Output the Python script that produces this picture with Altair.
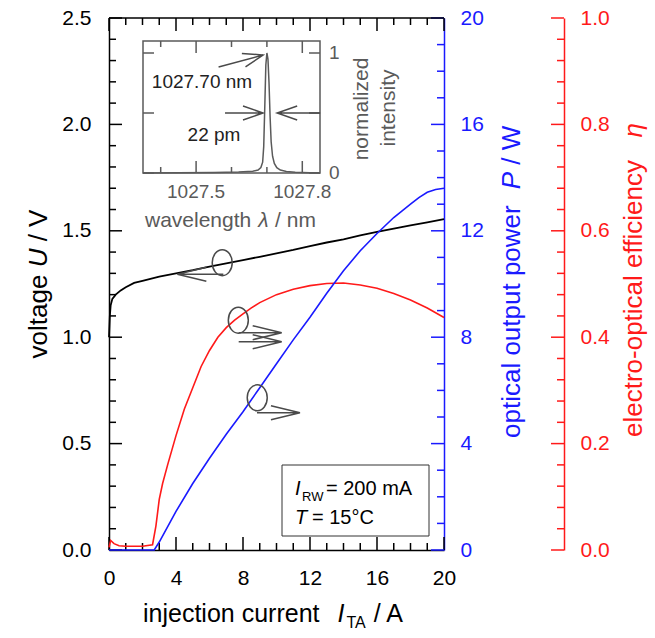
import altair as alt
import pandas as pd

# ---------------- values ----------------
current_U = [0, 0.05, 0.1, 0.2, 0.4, 0.7, 1.0, 1.5, 2, 3, 4, 5, 6, 7, 8, 9, 10,
             11, 12, 13, 14, 15, 16, 17, 18, 19, 20]
voltage_U = [1.00, 1.10, 1.15, 1.18, 1.20, 1.22, 1.235, 1.255, 1.265, 1.285, 1.30,
             1.315, 1.332, 1.347, 1.362, 1.378, 1.394, 1.41, 1.428, 1.445, 1.46,
             1.478, 1.495, 1.51, 1.525, 1.54, 1.555]

current_P = [0, 2.7, 3, 4, 5, 6, 7, 8, 9, 10, 11, 12, 13, 14, 15, 16, 17, 17.5,
             18, 18.5, 19, 19.5, 20]
power_P = [0, 0, 0.3, 1.45, 2.5, 3.45, 4.35, 5.2, 6.1, 7.0, 7.9, 8.75, 9.65, 10.5,
           11.25, 11.9, 12.5, 12.75, 13.0, 13.25, 13.45, 13.55, 13.6]

current_eta = [0, 0.1, 0.3, 0.6, 1.0, 2.0, 2.6, 2.8, 3.0, 3.2, 3.5, 4.0, 4.5, 5.0,
               5.5, 6.0, 6.5, 7.0, 7.5, 8.0, 8.5, 9.0, 10, 11, 12, 13, 14, 15, 16,
               17, 18, 19, 20]
efficiency_eta = [0.005, 0.018, 0.012, 0.008, 0.007, 0.007, 0.01, 0.045, 0.095,
                  0.125, 0.16, 0.215, 0.265, 0.305, 0.345, 0.375, 0.40, 0.418,
                  0.432, 0.444, 0.455, 0.465, 0.48, 0.49, 0.497, 0.501, 0.502,
                  0.498, 0.492, 0.482, 0.47, 0.455, 0.437]

wavelength_nm = [1027.35, 1027.45, 1027.55, 1027.62, 1027.66, 1027.675, 1027.683,
                 1027.688, 1027.691, 1027.694, 1027.697, 1027.700, 1027.703,
                 1027.706, 1027.709, 1027.712, 1027.716, 1027.721, 1027.728,
                 1027.738, 1027.755, 1027.78, 1027.82, 1027.85]
norm_intensity = [0.0, 0.002, 0.004, 0.008, 0.015, 0.025, 0.045, 0.09, 0.22, 0.55,
                  0.9, 1.0, 0.95, 0.75, 0.47, 0.26, 0.14, 0.08, 0.045, 0.025, 0.012,
                  0.006, 0.003, 0.002]

x_major = [0, 4, 8, 12, 16, 20]
x_minor = [v for v in range(21) if v % 4]
u_major = [0, 0.5, 1.0, 1.5, 2.0, 2.5]
u_minor = [round(i * 0.1, 2) for i in range(26) if i % 5]
p_major = [0, 4, 8, 12, 16, 20]
p_minor = [v for v in range(21) if v % 4]
e_major = [0, 0.2, 0.4, 0.6, 0.8, 1.0]
e_minor = [round(i * 0.04, 2) for i in range(26) if i % 5]
wl_major = [1027.5, 1027.8]
wl_minor = [1027.4, 1027.6, 1027.7]
wl_labels = ["1027.5", "1027.8"]
in_ticks = [0, 0.5, 1.0]
in_labels = [0, 1]

# ---------------- layout / style ----------------
W, H = 335, 532
RED_OFFSET = 120
FONT = "Liberation Sans"
BLACK, BLUE, RED, GRAY, ANN = "#000000", "#1a1aff", "#ff1a1a", "#5a5a5a", "#4a4a4a"
TW = 1.5
MAJ, MIN = 13, 7
IX0, IX1, IY1, IY0 = 34, 211, 23, 155   # inset frame in plot pixels

one = pd.DataFrame({"k": [0]})

x_scale = alt.Scale(domain=[0, 20], nice=False, zero=False)
u_scale = alt.Scale(domain=[0, 2.5], nice=False, zero=False)
p_scale = alt.Scale(domain=[0, 20], nice=False, zero=False)
e_scale = alt.Scale(domain=[0, 1.0], nice=False, zero=False)
wl_scale = alt.Scale(domain=[1027.35, 1027.85], range=[IX0, IX1], nice=False, zero=False)
in_scale = alt.Scale(domain=[0, 1.1], range=[IY0, IY1], nice=False, zero=False)

AW = {" ": 278, "a": 556, "b": 556, "c": 500, "d": 556, "e": 556, "f": 278, "g": 556,
      "h": 556, "i": 222, "j": 222, "k": 500, "l": 222, "m": 833, "n": 556, "o": 556,
      "p": 556, "q": 556, "r": 333, "s": 500, "t": 278, "u": 556, "v": 500, "w": 722,
      "x": 500, "y": 500, "z": 500, "-": 333, "/": 278, ".": 278, "=": 584, "°": 400,
      "U": 722, "V": 667, "W": 944, "P": 667, "I": 278, "T": 611, "A": 667, "R": 722,
      "C": 722}


def tw(s, size):
    return sum(AW.get(c, 556) for c in s) * size / 1000.0


def txt(text, x, y, size, color=BLACK, italic=False, angle=0, align="left",
        baseline="alphabetic"):
    kw = dict(text=text, font=FONT, fontSize=size, color=color, align=align,
              baseline=baseline)
    if italic:
        kw["fontStyle"] = "italic"
    if angle:
        kw["angle"] = angle
    return alt.Chart(one).mark_text(**kw).encode(x=alt.value(x), y=alt.value(y))


def vseq(parts, x, y_start, color):
    """rotated (270) text pieces running upward from y_start; gap in pixels"""
    out, y = [], y_start
    for text, size, italic, gap in parts:
        y -= gap
        out.append(txt(text, x, y, size, color, italic, angle=270))
        y -= tw(text, size)
    return out


def vals(v):
    return pd.DataFrame({"v": v})


def x_ticks(values, length, top):
    y0 = 0 if top else H
    y1 = length if top else H - length
    return alt.Chart(vals(values)).mark_rule(color=BLACK, strokeWidth=TW).encode(
        x=alt.X("v:Q", scale=x_scale, axis=None), y=alt.value(y0), y2=alt.value(y1))


def y_ticks(values, scale, length, edge, direction, color):
    return alt.Chart(vals(values)).mark_rule(color=color, strokeWidth=TW).encode(
        y=alt.Y("v:Q", scale=scale, axis=None), x=alt.value(edge),
        x2=alt.value(edge + direction * length))


def label_axis(orient, values, color, pad, fmt=None, offset=0):
    kw = dict(orient=orient, values=values, ticks=False, tickSize=0, grid=False,
              labelPadding=pad, labelFont=FONT, labelFontSize=21, labelColor=color,
              domain=True, domainColor=color, domainWidth=TW, labelFlush=False,
              labelOverlap=False, title=None, offset=offset)
    if fmt:
        kw["format"] = fmt
    return alt.Axis(**kw)


def arrow_path(length, head, half):
    return f"M{-length},0L0,0M{-head},{-half}L0,0L{-head},{half}"


def ellipse_path(rx, ry):
    k = 0.5523
    return (f"M{rx},0C{rx},{k*ry:.2f} {k*rx:.2f},{ry} 0,{ry}"
            f"C{-k*rx:.2f},{ry} {-rx},{k*ry:.2f} {-rx},0"
            f"C{-rx},{-k*ry:.2f} {-k*rx:.2f},{-ry} 0,{-ry}"
            f"C{k*rx:.2f},{-ry} {rx},{-k*ry:.2f} {rx},0Z")


layers = []

# ---- inward ticks and frame ----
layers += [x_ticks(x_major, MAJ, False), x_ticks(x_minor, MIN, False),
           x_ticks(x_major, MAJ, True), x_ticks(x_minor, MIN, True),
           y_ticks(u_major, u_scale, MAJ, 0, 1, BLACK),
           y_ticks(u_minor, u_scale, MIN, 0, 1, BLACK),
           y_ticks(p_major, p_scale, MAJ, W, -1, BLUE),
           y_ticks(p_minor, p_scale, MIN, W, -1, BLUE),
           y_ticks(e_major, e_scale, MAJ, W + RED_OFFSET, -1, RED),
           y_ticks(e_minor, e_scale, MIN, W + RED_OFFSET, -1, RED)]
layers.append(alt.Chart(one).mark_rule(color=BLACK, strokeWidth=TW).encode(
    x=alt.value(0), x2=alt.value(W), y=alt.value(0)))

# ---- curves with their axes ----
df_u = pd.DataFrame({"I": current_U, "U": voltage_U})
df_p = pd.DataFrame({"I": current_P, "P": power_P})
df_e = pd.DataFrame({"I": current_eta, "eta": efficiency_eta})

layers.append(alt.Chart(df_u).mark_line(color=BLACK, strokeWidth=1.8).encode(
    x=alt.X("I:Q", scale=x_scale, axis=label_axis("bottom", x_major, BLACK, 17)),
    y=alt.Y("U:Q", scale=u_scale, axis=label_axis("left", u_major, BLACK, 18, ".1f"))))
layers.append(alt.Chart(df_e).mark_line(color=RED, strokeWidth=1.6).encode(
    x=alt.X("I:Q", scale=x_scale, axis=None),
    y=alt.Y("eta:Q", scale=e_scale,
            axis=label_axis("right", e_major, RED, 16, ".1f", RED_OFFSET))))
layers.append(alt.Chart(df_p).mark_line(color=BLUE, strokeWidth=1.6).encode(
    x=alt.X("I:Q", scale=x_scale, axis=None),
    y=alt.Y("P:Q", scale=p_scale, axis=label_axis("right", p_major, BLUE, 16))))

# ---- curve markers (ellipses + arrows), positioned in voltage units ----
E2U, P2U = 2.5 / 1.0, 2.5 / 20.0
ell = ellipse_path(10, 13)
main_ann = pd.DataFrame({
    "x": [6.76, 4.08, 7.72, 10.31, 10.31, 8.85, 11.40],
    "y": [1.35, 1.296, 0.432 * E2U, 0.4085 * E2U, 0.3915 * E2U, 5.72 * P2U, 5.16 * P2U],
    "shape": [ell, arrow_path(46, 29, 7), ell, arrow_path(43, 29, 7),
              arrow_path(43, 29, 7), ell, arrow_path(43, 29, 7)],
    "ang": [0, 180, 0, 0, 0, 0, 0],
})
layers.append(alt.Chart(main_ann).mark_point(
    filled=False, color=ANN, strokeWidth=1.5, opacity=1, size=4).encode(
    x=alt.X("x:Q", scale=x_scale, axis=None),
    y=alt.Y("y:Q", scale=u_scale, axis=None),
    shape=alt.Shape("shape:N", scale=None),
    angle=alt.Angle("ang:Q", scale=None)))

# ---- parameter box ----
layers.append(alt.Chart(one).mark_rect(fillOpacity=0, stroke="#333333", strokeWidth=1).encode(
    x=alt.value(173), x2=alt.value(320), y=alt.value(447), y2=alt.value(518)))
layers += [txt("I", 186, 477, 20, italic=True), txt("RW", 193, 483, 13),
           txt("= 200 mA", 217, 477, 20),
           txt("T", 186, 506, 20, italic=True), txt("= 15°C", 203, 506, 20)]

# ---- inset ----
layers.append(alt.Chart(one).mark_rect(fillOpacity=0, stroke=GRAY, strokeWidth=TW).encode(
    x=alt.value(IX0), x2=alt.value(IX1), y=alt.value(IY1), y2=alt.value(IY0)))


def inset_xt(values, length, top):
    y0 = IY1 if top else IY0
    y1 = IY1 + length if top else IY0 - length
    return alt.Chart(vals(values)).mark_rule(color=GRAY, strokeWidth=TW).encode(
        x=alt.X("v:Q", scale=wl_scale, axis=None), y=alt.value(y0), y2=alt.value(y1))


def inset_yt(values, length, right):
    x0 = IX1 if right else IX0
    x1 = IX1 - length if right else IX0 + length
    return alt.Chart(vals(values)).mark_rule(color=GRAY, strokeWidth=TW).encode(
        y=alt.Y("v:Q", scale=in_scale, axis=None), x=alt.value(x0), x2=alt.value(x1))


layers += [inset_xt(wl_major, 12, False), inset_xt(wl_minor, 6, False),
           inset_xt(wl_major, 12, True), inset_xt(wl_minor, 6, True),
           inset_yt(in_ticks, 11, False), inset_yt(in_ticks, 11, True)]

df_s = pd.DataFrame({"wl": wavelength_nm, "I": norm_intensity})
layers.append(alt.Chart(df_s).mark_line(color=GRAY, strokeWidth=1.5).encode(
    x=alt.X("wl:Q", scale=wl_scale, axis=None),
    y=alt.Y("I:Q", scale=in_scale, axis=None)))

layers.append(alt.Chart(pd.DataFrame({"v": wl_major, "lab": wl_labels})).mark_text(
    font=FONT, fontSize=19, color=GRAY, align="center", baseline="middle").encode(
    x=alt.X("v:Q", scale=wl_scale, axis=None), y=alt.value(IY0 + 19),
    text=alt.Text("lab:N")))
layers.append(alt.Chart(pd.DataFrame({"v": in_labels})).mark_text(
    font=FONT, fontSize=19, color=GRAY, align="left", baseline="middle").encode(
    y=alt.Y("v:Q", scale=in_scale, axis=None), x=alt.value(IX1 + 9),
    text=alt.Text("v:Q")))

inset_ann = pd.DataFrame({
    "x": [1027.689, 1027.689, 1027.729],
    "y": [0.983, 0.5, 0.5],
    "shape": [arrow_path(46, 20, 7), arrow_path(38, 20, 7), arrow_path(43, 20, 7)],
    "ang": [345, 0, 180],
})
layers.append(alt.Chart(inset_ann).mark_point(
    filled=False, color=ANN, strokeWidth=1.5, opacity=1, size=4).encode(
    x=alt.X("x:Q", scale=wl_scale, axis=None),
    y=alt.Y("y:Q", scale=in_scale, axis=None),
    shape=alt.Shape("shape:N", scale=None),
    angle=alt.Angle("ang:Q", scale=None)))

layers += [txt("1027.70 nm", 93, 64, 19, "#222222", align="center", baseline="middle"),
           txt("22 pm", 105, 117, 19, "#222222", align="center", baseline="middle")]

# inset axis texts
wx = 36
layers.append(txt("wavelength", wx, 209, 21, GRAY))
wx += tw("wavelength", 21) + 7
layers.append(txt("λ", wx, 209, 21, GRAY, italic=True))
wx += 11 + tw(" ", 21)
layers.append(txt("/ nm", wx, 209, 21, GRAY))
layers += [txt("normalized", 259, 91, 21, GRAY, angle=270, align="center"),
           txt("intensity", 286, 90, 21, GRAY, angle=270, align="center")]

# ---- axis titles ----
TS = 26
SP = tw(" ", TS)
u_total = tw("voltage", TS) + SP + tw("U", TS) + SP + tw("/ V", TS)
layers += vseq([("voltage", TS, False, 0), ("U", TS, True, SP), ("/ V", TS, False, SP)],
               -62, 266 + u_total / 2, BLACK)
layers += vseq([("optical output power", TS, False, 0), ("P", TS, True, 16),
                ("/ W", TS, False, SP)], 411, 420, BLUE)
layers += vseq([("electro-optical efficiency", TS, False, 0), ("η", TS, True, 22)],
               533, 419, RED)

BS = 25
bx = 34
layers.append(txt("injection current", bx, 604, BS))
bx += tw("injection current", BS) + 18
layers.append(txt("I", bx, 604, BS, italic=True))
bx += tw("I", BS) + 2
layers.append(txt("TA", bx, 610, 16))
bx += tw("TA", 16) + tw(" ", BS)
layers.append(txt("/ A", bx, 604, BS))

chart = alt.layer(*layers).resolve_scale(
    x="independent", y="independent"
).properties(
    width=W, height=H,
    padding={"left": 109, "top": 18, "right": 211, "bottom": 88},
    autosize=alt.AutoSizeParams(type="none"),
).configure_view(strokeWidth=0)

chart.save("out.html", embed_options={"renderer": "svg", "actions": False})
